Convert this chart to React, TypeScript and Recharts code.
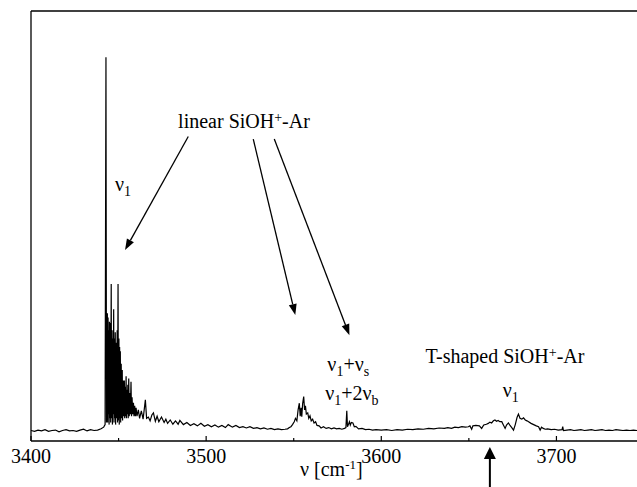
import { LineChart, Line, XAxis, YAxis, ReferenceLine, ReferenceDot } from "recharts";

// wavenumber (cm-1) and relative intensity
const nu = [
  3400, 3402, 3404, 3406, 3408, 3410, 3412, 3414, 3416, 3418, 3420, 3422, 3424, 3426, 3428, 3430,
  3432, 3434, 3436, 3438, 3440, 3441.5, 3442.3, 3442.8, 3443.1,
  3443.2, 3443.4, 3443.6, 3443.8, 3444.0, 3444.2, 3444.4, 3444.6, 3444.8, 3445.0, 3445.3, 3445.5,
  3445.8, 3446.0, 3446.3, 3446.5, 3446.8, 3447.0, 3447.2, 3447.4, 3447.7, 3447.9, 3448.1, 3448.3,
  3448.6, 3448.9, 3449.2, 3449.4, 3449.7, 3449.9, 3450.2, 3450.4, 3450.6, 3450.8, 3451.0, 3451.2,
  3451.5, 3451.8, 3452.1, 3452.3, 3452.6, 3452.9, 3453.3, 3453.5, 3453.8, 3454.0, 3454.3, 3454.5,
  3454.8, 3455.0, 3455.3, 3455.5, 3455.8, 3456.1, 3456.4, 3456.7, 3457.1, 3457.4, 3457.7, 3458.1,
  3458.5, 3458.8, 3459.2, 3459.6, 3460.0,
  3460.5, 3461.3, 3462, 3463, 3464, 3465.3, 3466, 3467, 3468, 3469, 3469.9, 3471, 3472, 3473,
  3474.5, 3476, 3477, 3478, 3479.5, 3481, 3482.5, 3483.3, 3484, 3485, 3487, 3489, 3491, 3493, 3495,
  3497, 3499, 3501, 3503, 3505, 3507, 3509, 3511, 3512.6, 3515, 3517, 3519, 3521, 3523, 3525, 3527,
  3529, 3531, 3533, 3535, 3537, 3539, 3541, 3543, 3545, 3546.5, 3547.5, 3548.4, 3549.3, 3550.3,
  3551, 3551.8, 3552.5, 3553.2, 3553.7, 3554.2, 3554.6, 3555.1, 3555.7, 3556.2, 3556.7, 3557.2,
  3558, 3558.6, 3559.3, 3560, 3560.8, 3561.6, 3562.5, 3563.3, 3564.5, 3565.6, 3567, 3568.5, 3570,
  3571.5, 3573, 3574.5, 3576, 3577.5, 3579, 3579.8, 3580.3, 3580.7, 3581.2, 3581.8, 3582.3, 3582.9,
  3583.8, 3584.6, 3585.5, 3587, 3589, 3591, 3593, 3595, 3597, 3600, 3603, 3606, 3609, 3612, 3615,
  3618, 3621, 3624, 3627, 3630, 3633, 3636, 3638, 3640.1, 3642, 3644, 3646, 3648, 3649.7, 3650.6,
  3651.6, 3652.3, 3654, 3656, 3657.3, 3658.5, 3660, 3661.1, 3662, 3663, 3664, 3664.9, 3665.8,
  3666.7, 3667.7, 3668.8, 3669.5, 3670.7, 3671.5, 3672.6, 3673.5, 3674.5, 3675.5, 3676.5, 3677.5,
  3678.3, 3679.2, 3680.2, 3681.2, 3682.2, 3683.2, 3684.1, 3685.5, 3687, 3688.5, 3689.8, 3690.7,
  3691.5, 3692.5, 3693.6, 3695, 3697, 3699, 3701, 3703.2, 3703.6, 3704, 3706, 3708, 3710, 3712,
  3714, 3716, 3718, 3720, 3722, 3724, 3726, 3728, 3730, 3732, 3734, 3736, 3738, 3740, 3742, 3744, 3746,
];

const intensity = [
  0.1, -0.1, 0.2, 0, 0.3, -0.1, 0.1, 0.2, -0.2, 0.1, 0.3, 0, 0.1, -0.1, 0.2, 0.4,
  0, 0.3, 0.1, 0.2, 0.5, 0.9, 1.5, 89, 2,
  22, 3, 28, 2, 27, 4, 24, 1.5, 26, 3, 25.7, 2,
  35, 3, 24, 1.5, 22, 4, 29, 2, 22, 3, 23.5, 1.5,
  21, 3, 24, 2, 35, 2.5, 22, 1.5, 20, 3, 19, 2,
  16, 3, 14.5, 2.5, 12, 3.5, 12, 3, 10.5, 3.5, 13, 3,
  9.8, 4, 11, 3, 12.5, 3.5, 9, 4, 11.7, 3.5, 8, 4,
  6.7, 3.5, 6, 3.5, 5.5,
  3.5, 5, 3, 4.8, 2.8, 7.4, 3, 3.3, 2.4, 3.8, 4.3, 2.3, 3.5, 2.2,
  3.3, 2.0, 2.8, 1.8, 2.6, 1.6, 2.4, 2.0, 1.6, 2.5, 1.5, 2.0, 1.3, 1.7, 1.2,
  1.8, 1.1, 1.5, 1.0, 1.4, 0.9, 1.3, 0.8, 1.5, 0.9, 1.3, 0.8, 1.0, 0.7, 1.0, 0.6,
  0.8, 0.5, 0.7, 0.4, 0.6, 0.3, 0.5, 0.3, 0.4, 0.5, 0.8, 1.0, 1.5, 2.2,
  3.0, 2.4, 5, 6.6, 3.5, 5.5, 3.4, 6.5, 8.2, 5, 6, 4,
  4.3, 3, 3.6, 2.4, 2.8, 1.9, 2.2, 1.3, 1.2, 0.7, 1.0, 0.6, 0.8,
  0.5, 0.7, 0.5, 0.6, 0.4, 0.6, 0.8, 4.8, 1.0, 1.5, 2.2, 1.4, 2.0,
  1.9, 1.0, 1.1, 0.5, 0.6, 0.3, 0.4, 0.2, 0.3, 0.2, 0.3, 0.1, 0.3, 0.2, 0.4,
  0.3, 0.5, 0.4, 0.6, 0.5, 0.7, 0.6, 0.8, 0.6, 0.9, 0.8, 1.0, 0.9, 1.0, 1.2,
  0.4, 1.2, 1.3, 1.2, 0.6, 1.4, 1.6, 1.8, 2.1, 1.9, 2.4, 2.6, 2.3,
  2.5, 2.2, 2.2, 1.6, 0.6, 1.4, 1.9, 1.3, 0.8, 0.2, 1.5, 3.2,
  4.0, 3.0, 2.8, 3.1, 2.6, 2.4, 2.2, 1.8, 1.5, 1.2, 1.0, 0.2,
  0.9, 0.6, 0.4, 0.5, 0.3, 0.4, 0.2, 0.3, 1.0, 0.1, 0.2, 0.3, 0.1, 0.2,
  0.3, 0.1, 0.2, 0.3, 0.1, 0.2, 0.3, 0.1, 0.2, 0.1, 0.3, 0.2, 0.1, 0.2, 0.1, 0.2, 0.1,
];

const xTicks = [3400, 3450, 3500, 3550, 3600, 3650, 3700];
const yRange = [-2.4, 100];

const data = nu.map((v, i) => ({ nu: v, y: intensity[i] }));

const serif = "'Liberation Serif', 'Times New Roman', serif";

const TickMark = ({ x, y, payload }: any) => {
  const major = payload.value % 100 === 0;
  return (
    <g>
      <line x1={x} x2={x} y1={y} y2={y - (major ? 5 : 3)} stroke="#000" strokeWidth={1.2} />
      {major && (
        <text x={x} y={y + 22} textAnchor="middle" fontFamily={serif} fontSize={20} fill="#000">
          {payload.value}
        </text>
      )}
    </g>
  );
};

const arrow = (head: number, width: number, sw: number) => (p: any) => {
  const { x1, y1, x2, y2 } = p;
  const dx = x2 - x1;
  const dy = y2 - y1;
  const len = Math.hypot(dx, dy) || 1;
  const ux = dx / len;
  const uy = dy / len;
  const bx = x2 - ux * head;
  const by = y2 - uy * head;
  const px = (-uy * width) / 2;
  const py = (ux * width) / 2;
  return (
    <g>
      <line x1={x1} y1={y1} x2={bx} y2={by} stroke="#000" strokeWidth={sw} />
      <polygon points={`${x2},${y2} ${bx + px},${by + py} ${bx - px},${by - py}`} fill="#000" />
    </g>
  );
};

// segments: [text, shift] where shift > 0 lowers (subscript), < 0 raises (superscript)
const note = (segs: [string, number][]) => (p: any) => {
  const vb = p.viewBox || {};
  let cur = 0;
  return (
    <text x={vb.x} y={vb.y} fontFamily={serif} fontSize={20} fill="#000">
      {segs.map(([t, s], i) => {
        const dy = s - cur;
        cur = s;
        return (
          <tspan key={i} dy={dy} fontSize={s === 0 ? 20 : 14}>
            {t}
          </tspan>
        );
      })}
    </text>
  );
};

const AxisTitle = (p: any) => {
  const vb = p.viewBox;
  return (
    <text x={vb.x + vb.width / 2 - 34} y={vb.y + 35} fontFamily={serif} fontSize={20} fill="#000">
      <tspan>ν [cm</tspan>
      <tspan dy={-7} fontSize={13}>-1</tspan>
      <tspan dy={7}>]</tspan>
    </text>
  );
};

export default function App() {
  return (
    <div style={{ position: "absolute", left: 0, top: 0, background: "#fff" }}>
      <LineChart width={637} height={487} data={data} margin={{ top: 11, right: 0, bottom: 0, left: 30 }}>
        <XAxis
          dataKey="nu"
          type="number"
          domain={[3400, 3746]}
          ticks={xTicks}
          interval={0}
          allowDataOverflow
          height={46}
          tickSize={0}
          tickMargin={0}
          tickLine={false}
          axisLine={false}
          tick={<TickMark />}
          label={{ content: <AxisTitle /> }}
        />
        <YAxis
          type="number"
          domain={yRange}
          width={1}
          tick={false}
          tickLine={false}
          allowDataOverflow
          axisLine={{ stroke: "#000", strokeWidth: 1.3 }}
        />
        <ReferenceLine y={yRange[1]} stroke="#000" strokeWidth={1.3} ifOverflow="visible" />
        <ReferenceLine y={yRange[0]} stroke="#000" strokeWidth={1.3} ifOverflow="visible" />
        <Line
          type="linear"
          dataKey="y"
          stroke="#000"
          strokeWidth={1.2}
          dot={false}
          isAnimationActive={false}
        />
        <ReferenceLine
          segment={[{ x: 3489.8, y: 70.1 }, { x: 3453.7, y: 43.1 }]}
          ifOverflow="visible"
          shape={arrow(11, 8, 1.3)}
        />
        <ReferenceLine
          segment={[{ x: 3526.9, y: 69.5 }, { x: 3550.9, y: 27.6 }]}
          ifOverflow="visible"
          shape={arrow(11, 8, 1.3)}
        />
        <ReferenceLine
          segment={[{ x: 3538.9, y: 69.5 }, { x: 3581.8, y: 22.8 }]}
          ifOverflow="visible"
          shape={arrow(11, 8, 1.3)}
        />
        <ReferenceLine
          segment={[{ x: 3662, y: -13.5 }, { x: 3662, y: -3.8 }]}
          ifOverflow="visible"
          shape={arrow(12, 12, 2)}
        />
        <ReferenceDot x={3484} y={72.1} r={0} fill="none" stroke="none" ifOverflow="visible"
          label={{ content: note([["linear SiOH", 0], ["+", -6], ["-Ar", 0]]) }} />
        <ReferenceDot x={3448} y={57.1} r={0} fill="none" stroke="none" ifOverflow="visible"
          label={{ content: note([["ν", 0], ["1", 5]]) }} />
        <ReferenceDot x={3569.2} y={14.2} r={0} fill="none" stroke="none" ifOverflow="visible"
          label={{ content: note([["ν", 0], ["1", 5], ["+ν", 0], ["s", 5]]) }} />
        <ReferenceDot x={3568} y={7.4} r={0} fill="none" stroke="none" ifOverflow="visible"
          label={{ content: note([["ν", 0], ["1", 5], ["+2ν", 0], ["b", 5]]) }} />
        <ReferenceDot x={3625.3} y={16.2} r={0} fill="none" stroke="none" ifOverflow="visible"
          label={{ content: note([["T-shaped SiOH", 0], ["+", -6], ["-Ar", 0]]) }} />
        <ReferenceDot x={3669.3} y={8.1} r={0} fill="none" stroke="none" ifOverflow="visible"
          label={{ content: note([["ν", 0], ["1", 5]]) }} />
      </LineChart>
    </div>
  );
}
